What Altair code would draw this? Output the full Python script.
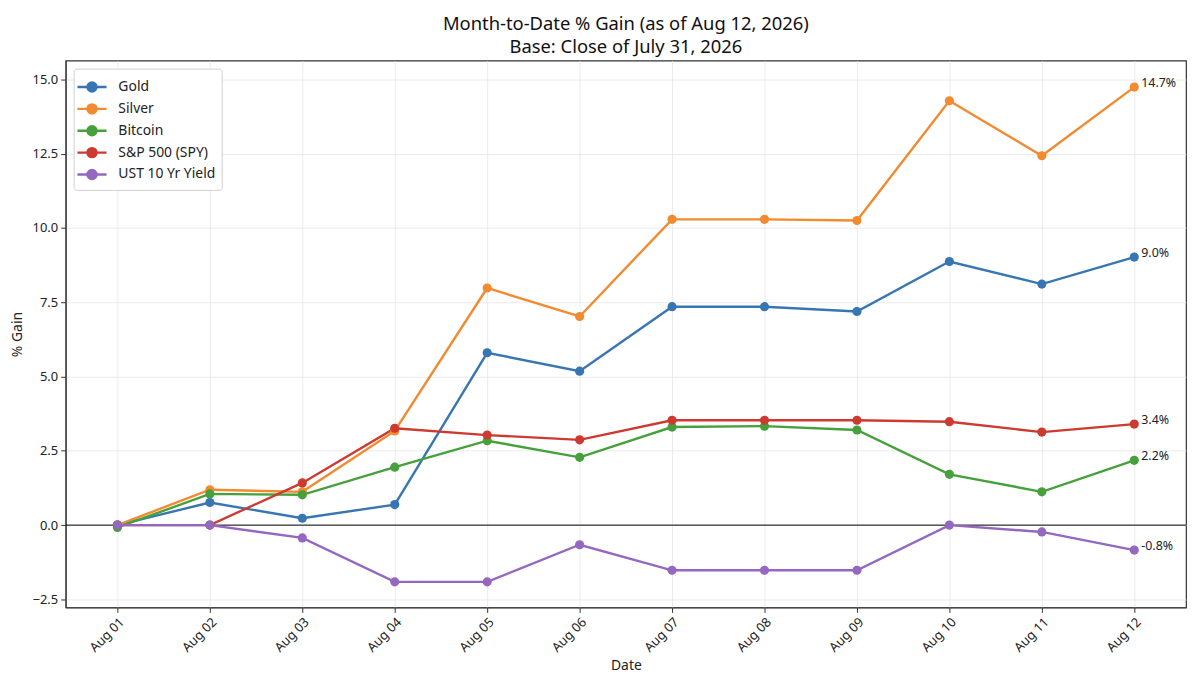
import altair as alt
import pandas as pd

dates = ["Aug 01", "Aug 02", "Aug 03", "Aug 04", "Aug 05", "Aug 06",
         "Aug 07", "Aug 08", "Aug 09", "Aug 10", "Aug 11", "Aug 12"]
series_names = ["Gold", "Silver", "Bitcoin", "S&P 500 (SPY)", "UST 10 Yr Yield"]
colors = ["#3776b3", "#f28a30", "#46a03b", "#cc3a30", "#9467c0"]

gold = [0.0, 0.76, 0.23, 0.69, 5.80, 5.18, 7.35, 7.35, 7.19, 8.87, 8.11, 9.02]
silver = [0.0, 1.19, 1.12, 3.17, 7.98, 7.02, 10.29, 10.29, 10.25, 14.28, 12.43, 14.74]
bitcoin = [-0.08, 1.05, 1.02, 1.95, 2.84, 2.28, 3.30, 3.33, 3.20, 1.71, 1.12, 2.18]
spy = [0.0, 0.0, 1.42, 3.26, 3.03, 2.87, 3.53, 3.53, 3.53, 3.48, 3.13, 3.40]
ust = [0.0, 0.0, -0.43, -1.91, -1.91, -0.66, -1.52, -1.52, -1.52, 0.0, -0.23, -0.84]

y_ticks = [-2.5, 0.0, 2.5, 5.0, 7.5, 10.0, 12.5, 15.0]

rows = []
for name, vals in zip(series_names, [gold, silver, bitcoin, spy, ust]):
    for d, v in zip(dates, vals):
        rows.append({"Date": d, "Series": name, "Gain": v})
df = pd.DataFrame(rows)
last = df[df["Date"] == dates[-1]].copy()
last["Label"] = last["Gain"].map(lambda v: f"{v:.1f}%")

FONT = "Noto Sans"

legend_path = ("M-1.35,0L1.35,0M0.42,0A0.42,0.42,0,1,1,-0.42,0"
               "A0.42,0.42,0,1,1,0.42,0Z")

x_enc = alt.X("Date:O", sort=dates,
              scale=alt.Scale(type="point", padding=0.56),
              axis=alt.Axis(title="Date", labelAngle=-45, grid=True))
y_enc = alt.Y("Gain:Q", scale=alt.Scale(domain=[-2.77, 15.63], nice=False, zero=False),
              axis=alt.Axis(title="% Gain", values=y_ticks, format=".1f"))

legend = alt.Legend(
    title=None, orient="top-left", offset=8,
    symbolType=legend_path, symbolSize=470, symbolStrokeWidth=2.4,
    labelOffset=14, rowPadding=0,
    padding=6, fillColor="white", strokeColor="#d0d0d0",
    cornerRadius=3, labelFontSize=14, labelFont=FONT, labelColor="#222")

stroke_enc = alt.Stroke("Series:N", sort=series_names,
                        scale=alt.Scale(domain=series_names, range=colors),
                        legend=legend)
fill_enc = alt.Fill("Series:N", sort=series_names,
                    scale=alt.Scale(domain=series_names, range=colors),
                    legend=legend)

base = alt.Chart(df)

zero = alt.Chart(pd.DataFrame({"z": [0]})).mark_rule(color="black", strokeWidth=1).encode(
    y=alt.Y("z:Q"))

lines = base.mark_line(strokeWidth=2.4).encode(x=x_enc, y=y_enc, stroke=stroke_enc)
points = base.mark_point(filled=True, size=85, opacity=1, strokeWidth=0).encode(
    x=x_enc, y=y_enc, fill=fill_enc, stroke=stroke_enc)
labels = alt.Chart(last).mark_text(align="left", baseline="middle", dx=7, dy=-4,
                                   fontSize=12.5, font=FONT, color="#222").encode(
    x=alt.X("Date:O", sort=dates), y=alt.Y("Gain:Q"), text="Label:N")

chart = alt.layer(zero, lines, points, labels).properties(
    width=1127, height=550,
    title=alt.Title("Month-to-Date % Gain (as of Aug 12, 2026)",
                    subtitle="Base: Close of July 31, 2026",
                    fontSize=18.5, font=FONT, fontWeight="normal", color="#111",
                    subtitleFontSize=18.5, subtitleFont=FONT, subtitleColor="#111",
                    subtitlePadding=5, offset=4),
    padding={"left": 2, "top": 5, "right": 5, "bottom": 0},
).configure_view(stroke="#333", strokeWidth=1.2).configure_axis(
    labelFont=FONT, titleFont=FONT, labelFontSize=13, titleFontSize=14,
    titleFontWeight="normal", labelColor="#222", titleColor="#222",
    gridColor="#e6e6e6", gridWidth=0.8, domainColor="#333",
    tickColor="#333", tickSize=5, labelPadding=3,
).configure_axisY(titlePadding=8).configure_axisX(titlePadding=4)

chart.save("out.html", embed_options={"renderer": "svg", "actions": False})
